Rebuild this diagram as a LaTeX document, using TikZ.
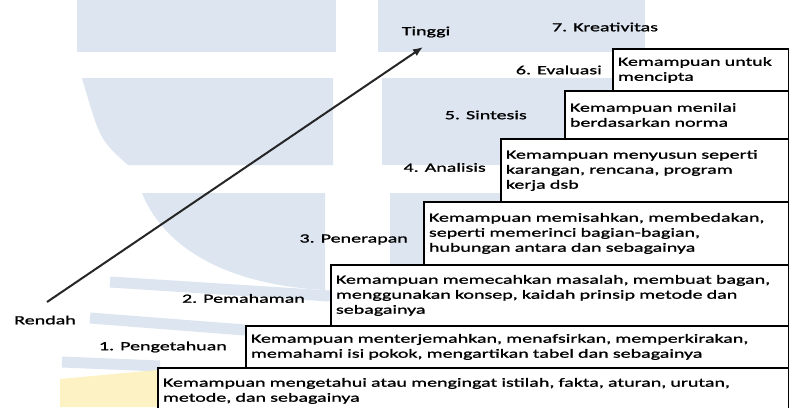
\documentclass[tikz,border=0pt]{standalone}
\usepackage{fontspec}
\setmainfont{Carlito}
\newfontfamily\scanfont[FakeStretch=1.6, FakeBold=1.2]{Carlito}
\usetikzlibrary{arrows.meta, positioning}
\definecolor{wmBlue}{HTML}{DCE5F0}
\definecolor{wmYellow}{HTML}{FCF2C4}
\definecolor{inkGrey}{HTML}{262626}
\tikzset{
  levelbox/.style = {draw=black, line width=1.9pt, fill=white, anchor=north west,
                     align=left, inner xsep=5pt, inner ysep=0pt,
                     font=\scanfont\fontsize{12.5}{15}\selectfont},
  levellbl/.style = {inner sep=0pt, font=\scanfont\fontsize{12.5}{15}\selectfont},
  rise/.style     = {-{Latex[length=10pt,width=8pt]}, line width=2pt, inkGrey},
  wmband/.style   = {fill=wmBlue, draw=none},
  wmstreak/.style = {wmBlue, line width=11pt},
}

\begin{document}
\begin{tikzpicture}[x=1pt, y=-1pt]
  \useasboundingbox (0,0) rectangle (789,407);
  \clip (0,0) rectangle (789,407);
  \fill[white] (0,0) rectangle (789,407);
  % watermark behind the steps
  \fill[wmband] (77,0) rectangle (336,52);
  \fill[wmband] (378,0) rectangle (645,52);
  \fill[wmband] (82,78) -- (333,78) -- (333,165) -- (128,165) .. controls (100,140) .. (82,78);
  \fill[wmband] (382,78) rectangle (645,165);
  \fill[wmband] (142,193) -- (325,193) -- (325,290) .. controls (230,285) and (165,250) .. (142,193);
  \fill[wmband] (390,193) rectangle (620,275);
  \draw[wmstreak] (110,282) -- (330,296);
  \draw[wmstreak] (90,318) -- (245,330);
  \draw[wmstreak] (62,362) -- (160,366);
  \fill[wmYellow] (60,407) -- (60,379) -- (157,370) -- (157,407) -- cycle;

  % steps, top to bottom
  \node[levelbox, text width=166pt, minimum height=42pt] (mencipta) at (612,48)
    {Kemampuan untuk\\mencipta};
  \node[levelbox, text width=214pt, minimum height=48pt] (menilai) at (564,90)
    {Kemampuan menilai\\berdasarkan norma};
  \node[levelbox, text width=278pt, minimum height=63pt] (menyusun) at (500,138)
    {Kemampuan menyusun seperti\\karangan, rencana, program\\kerja dsb};
  \node[levelbox, text width=355pt, minimum height=63pt] (memisah) at (423,201)
    {Kemampuan memisahkan, membedakan,\\seperti memerinci bagian-bagian,\\hubungan antara dan sebagainya};
  \node[levelbox, text width=448pt, minimum height=61pt] (memecah) at (330,264)
    {Kemampuan memecahkan masalah, membuat bagan,\\menggunakan konsep, kaidah prinsip metode dan\\sebagainya};
  \node[levelbox, text width=533pt, minimum height=42pt] (menterjemah) at (245,325)
    {Kemampuan menterjemahkan, menafsirkan, memperkirakan,\\memahami isi pokok, mengartikan tabel dan sebagainya};
  \node[levelbox, text width=621pt, minimum height=46pt] (mengingat) at (157,367)
    {Kemampuan mengetahui atau mengingat istilah, fakta, aturan, urutan,\\metode, dan sebagainya};

  % level names
  \node[levellbl] (kreativitas) at (605,27) {7. Kreativitas};
  \node[levellbl, left=10pt of mencipta] (evaluasi) {6. Evaluasi};
  \node[levellbl, left=37pt of menilai] (sintesis) {5. Sintesis};
  \node[levellbl, left=14pt of menyusun, yshift=3pt] (analisis) {4. Analisis};
  \node[levellbl, left=15pt of memisah, yshift=-6pt] (penerapan) {3. Penerapan};
  \node[levellbl, left=25pt of memecah, yshift=-3pt] (pemahaman) {2. Pemahaman};
  \node[levellbl, left=18pt of menterjemah] (pengetahuan) {1. Pengetahuan};

  \node[levellbl] (rendah) at (45,320) {Rendah};
  \node[levellbl] (tinggi) at (426,32) {Tinggi};
  \coordinate (bawah) at (47,302);
  \coordinate (atas) at (423,47);
  \draw[rise] (bawah) -- (atas);
\end{tikzpicture}
\end{document}
